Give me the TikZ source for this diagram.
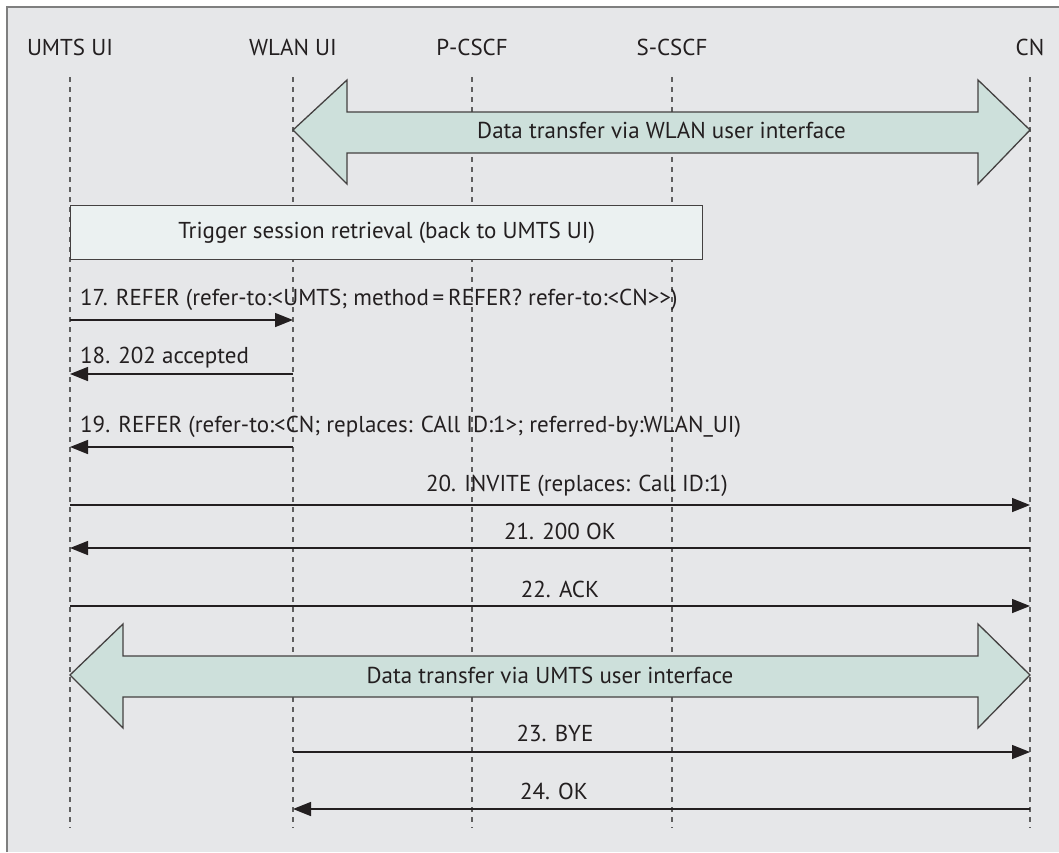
\documentclass[tikz,border=0pt]{standalone}
\usepackage{fontspec}
\setmainfont{PT Sans}
\usetikzlibrary{arrows.meta,calc}

\definecolor{panelbg}{HTML}{E6E7E9}
\definecolor{framegray}{HTML}{7F7F7F}
\definecolor{lifegray}{HTML}{5F5F5F}
\definecolor{arrowfill}{HTML}{CDE0DB}
\definecolor{boxfill}{HTML}{EBF1F1}
\definecolor{ink}{HTML}{231F20}

\tikzset{
  lifeline/.style={draw=lifegray, line width=1.6pt, dash pattern=on 5pt off 5pt},
  msg/.style={draw=ink, line width=1.5pt, -{Triangle[length=18pt,width=14pt]}},
  txt/.style={font=\fontsize{23}{27}\selectfont, text=ink, inner sep=0pt},
  blockarrow/.style={fill=arrowfill, draw=ink!85, line width=1.3pt, line join=miter},
  trigbox/.style={fill=boxfill, draw=ink!85, line width=1.3pt},
}

\begin{document}
\begin{tikzpicture}[x=1pt,y=-1pt]
  % canvas and panel frame
  \fill[white] (0,0) rectangle (1059,852);
  \useasboundingbox (0,0) rectangle (1059,852);
  \fill[panelbg] (7,7) rectangle (1059,852);
  \draw[framegray, line width=2pt] (7,852) -- (7,7) -- (1059,7);

  % participants
  \node[txt] (hU) at (70,47)   {UMTS UI};
  \node[txt] (hW) at (293,47)  {WLAN UI};
  \node[txt] (hP) at (472,47)  {P-CSCF};
  \node[txt] (hS) at (672,47)  {S-CSCF};
  \node[txt] (hC) at (1030,47) {CN};

  % lifelines
  \foreach \n/\x in {U/70, W/293, P/472, S/672, C/1030} {
    \coordinate (\n top) at (\x,77);
    \coordinate (\n bot) at (\x,828);
    \draw[lifeline] (\n top) -- (\n bot);
  }

  % data transfer over WLAN
  \coordinate (wl) at (293,130);
  \coordinate (wr) at (1030,130);
  \draw[blockarrow] (wl) -- (347,80) -- (347,112) -- (978,112) -- (978,80)
    -- (wr) -- (978,184) -- (978,153) -- (347,153) -- (347,184) -- cycle;
  \node[txt] (dataW) at ($(wl)!0.5!(wr)$) {Data transfer via WLAN user interface};

  % retrieval trigger
  \node[trigbox, minimum width=632pt, minimum height=54pt, inner sep=0pt,
        anchor=north west] (trig) at (70,205) {};
  \node[txt] (trigtxt) at (trig.center) {Trigger session retrieval (back to UMTS UI)};

  % signalling messages
  \coordinate (m17a) at (70,320);  \coordinate (m17b) at (293,320);
  \draw[msg] (m17a) -- (m17b);
  \node[txt, anchor=west] (l17) at (80,300)
    {17. REFER (refer-to:<UMTS; method\,=\,REFER? refer-to:<CN>{}>)};

  \coordinate (m18a) at (293,374); \coordinate (m18b) at (70,374);
  \draw[msg] (m18a) -- (m18b);
  \node[txt, anchor=west] (l18) at (80,358) {18. 202 accepted};

  \coordinate (m19a) at (293,447); \coordinate (m19b) at (70,447);
  \draw[msg] (m19a) -- (m19b);
  \node[txt, anchor=west] (l19) at (80,427)
    {19. REFER (refer-to:<CN; replaces: CAll ID:1>; referred-by:WLAN\_UI)};

  \coordinate (m20a) at (70,505);  \coordinate (m20b) at (1030,505);
  \draw[msg] (m20a) -- (m20b);
  \node[txt] (l20) at (577,486) {20. INVITE (replaces: Call ID:1)};

  \coordinate (m21a) at (1030,548); \coordinate (m21b) at (70,548);
  \draw[msg] (m21a) -- (m21b);
  \node[txt] (l21) at (560,531) {21. 200 OK};

  \coordinate (m22a) at (70,606);  \coordinate (m22b) at (1030,606);
  \draw[msg] (m22a) -- (m22b);
  \node[txt] (l22) at (560,589) {22. ACK};

  % data transfer over UMTS
  \coordinate (ul) at (70,675);
  \coordinate (ur) at (1030,675);
  \draw[blockarrow] (ul) -- (123,624) -- (123,656) -- (978,656) -- (978,624)
    -- (ur) -- (978,728) -- (978,697) -- (123,697) -- (123,728) -- cycle;
  \node[txt] (dataU) at ($(ul)!0.5!(ur)$) {Data transfer via UMTS user interface};

  \coordinate (m23a) at (293,752); \coordinate (m23b) at (1030,752);
  \draw[msg] (m23a) -- (m23b);
  \node[txt] (l23) at (555,733) {23. BYE};

  \coordinate (m24a) at (1030,809); \coordinate (m24b) at (293,809);
  \draw[msg] (m24a) -- (m24b);
  \node[txt] (l24) at (554,791) {24. OK};
\end{tikzpicture}
\end{document}
